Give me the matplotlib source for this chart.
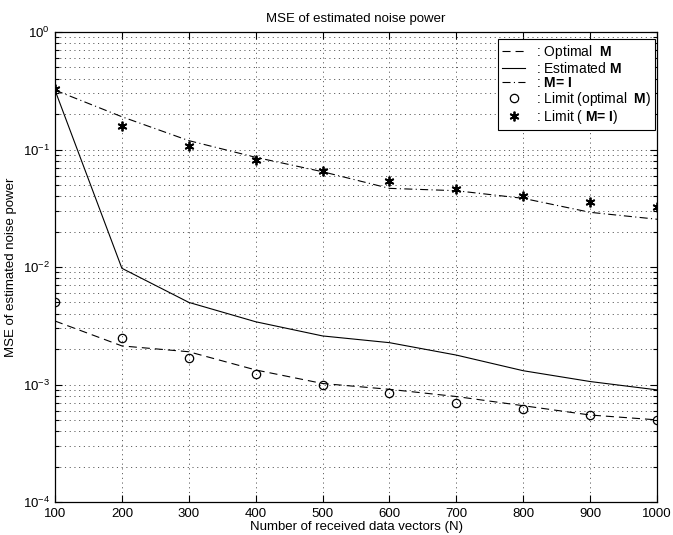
import matplotlib
matplotlib.use("Agg")
import matplotlib.pyplot as plt
import numpy as np
from matplotlib.ticker import LogLocator, FixedLocator, NullFormatter

plt.rcParams['font.family'] = ['Liberation Sans', 'DejaVu Sans']
plt.rcParams['mathtext.fontset'] = 'custom'
plt.rcParams['mathtext.rm'] = 'Liberation Sans:bold'
plt.rcParams['mathtext.bf'] = 'Liberation Sans:bold'
plt.rcParams['lines.scale_dashes'] = False

# ---- data ----
N = [100, 200, 300, 400, 500, 600, 700, 800, 900, 1000]
mse_optimal = [0.00347, 0.00213, 0.0019, 0.00133, 0.00102, 0.00091, 0.00079, 0.00066, 0.00055, 0.00050]
mse_estimated = [0.32, 0.00975, 0.0050, 0.00342, 0.00259, 0.00227, 0.00178, 0.00131, 0.00106, 0.00090]
mse_identity = [0.32, 0.19, 0.119, 0.0858, 0.0647, 0.0467, 0.0446, 0.0384, 0.0292, 0.0255]
limit_optimal = [0.0050, 0.00250, 0.00167, 0.00124, 0.00099, 0.00084, 0.00070, 0.00062, 0.00055, 0.00050]
limit_identity = [0.325, 0.16, 0.108, 0.0814, 0.065, 0.054, 0.046, 0.040, 0.036, 0.0326]
x_ticks = [100, 200, 300, 400, 500, 600, 700, 800, 900, 1000]

W, H = 673, 535
fig = plt.figure(figsize=(W / 100, H / 100), dpi=100)
ax = fig.add_axes([55 / W, 1 - 502 / H, (657 - 55) / W, (502 - 32) / H])

lw = 0.8
ax.plot(N, mse_optimal, color='black', lw=lw, dashes=(5.8, 3.6),
        label=r': Optimal  $\text{M}$')
ax.plot(N, mse_estimated, color='black', lw=lw, linestyle='-',
        label=r': Estimated $\text{M}$')
ax.plot(N, mse_identity, color='black', lw=lw, dashes=(5.8, 2.4, 0.8, 2.4),
        label=r': $\text{M= I}$')
ax.plot(N, limit_optimal, linestyle='none', marker='o', markersize=6,
        markerfacecolor='none', markeredgecolor='black', markeredgewidth=0.9,
        label=r': Limit (optimal  $\text{M}$)')
ax.plot(N, limit_identity, linestyle='none', marker=(6, 2, 0), markersize=7,
        markeredgecolor='black', markeredgewidth=1.3, color='black',
        label=r': Limit ( $\text{M= I}$)')

ax.set_yscale('log')
ax.set_xlim(100, 1000)
ax.set_ylim(1e-4, 1)
ax.xaxis.set_major_locator(FixedLocator(x_ticks))
ax.yaxis.set_major_locator(LogLocator(base=10, numticks=10))
ax.yaxis.set_minor_locator(LogLocator(base=10, subs=np.arange(2, 10), numticks=20))
ax.yaxis.set_minor_formatter(NullFormatter())

ax.tick_params(which='both', direction='in', top=True, right=True, labelsize=9.5, width=0.8)
ax.tick_params(which='major', length=5)
ax.tick_params(which='minor', length=3)
ax.tick_params(axis='x', pad=4)

grid_kw = dict(color='0.25', linewidth=0.6, dashes=(0.8, 2.6))
ax.grid(True, which='major', axis='both', **grid_kw)
ax.grid(True, which='minor', axis='y', **grid_kw)
for s in ax.spines.values():
    s.set_linewidth(0.9)
    s.set_color('black')

ax.set_title('MSE of estimated noise power', fontsize=9.5, pad=7)
ax.set_xlabel('Number of received data vectors (N)', fontsize=9.5, labelpad=1)
ax.set_ylabel('MSE of estimated noise power', fontsize=9.5, labelpad=4)

leg = ax.legend(loc='upper right', bbox_to_anchor=(0.997, 0.985), borderaxespad=0,
                fontsize=10, handlelength=1.6, handletextpad=0.8, labelspacing=0.0,
                borderpad=0.3, fancybox=False, framealpha=1, edgecolor='black')
leg.get_frame().set_linewidth(0.8)

fig.savefig('out.png', dpi=100)
